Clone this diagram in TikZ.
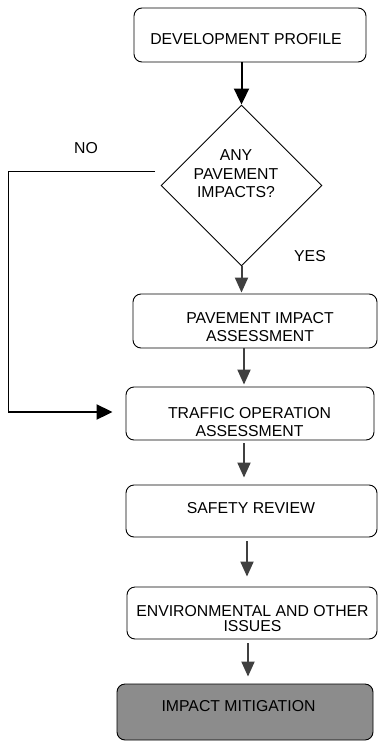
\documentclass[tikz,border=0pt]{standalone}
\usepackage{fontspec}
\setmainfont{Liberation Sans}
\usetikzlibrary{shapes.geometric,arrows.meta,calc}
\definecolor{arrgray}{HTML}{404040}
\definecolor{mitfill}{HTML}{8C8C8C}
\begin{document}
\begin{tikzpicture}[x=1pt,y=-1pt,
  box/.style={draw=black,line width=0.9pt,rounded corners=8pt,inner sep=0pt},
  txt/.style={font=\fontsize{15.8}{18.5}\selectfont,align=center,inner sep=0pt},
  grayarr/.style={draw=arrgray,line width=2pt,-{Triangle[length=15pt,width=13pt]}},
  blackarr/.style={draw=black,line width=2pt,-{Triangle[length=16pt,width=15pt]}},
  noline/.style={draw=black,line width=1pt}]
\useasboundingbox (0,0) rectangle (378,742);

% boxes
\node[box,minimum width=232pt,minimum height=54pt] (dev) at (250,35) {};
\node[draw=black,line width=0.9pt,diamond,aspect=1,minimum width=161pt,minimum height=161pt,inner sep=0pt] (dia) at (241.5,185.5) {};
\node[box,minimum width=244pt,minimum height=54pt] (pav) at (255,321) {};
\node[box,minimum width=248pt,minimum height=53pt] (traf) at (250,413.5) {};
\node[box,minimum width=251pt,minimum height=52pt] (safe) at (251.5,511) {};
\node[box,minimum width=250pt,minimum height=52pt] (env) at (252,613) {};
\node[box,fill=mitfill,minimum width=256pt,minimum height=56pt] (mit) at (245,712) {};

% texts
\node[txt] (devt) at (246,39) {DEVELOPMENT PROFILE};
\node[txt] (diat) at (236,174) {ANY\\PAVEMENT\\IMPACTS?};
\node[txt] (pavt) at (260,327) {PAVEMENT IMPACT\\ASSESSMENT};
\node[txt] (traft) at (249.5,422) {TRAFFIC OPERATION\\ASSESSMENT};
\node[txt] (safet) at (251,508) {SAFETY REVIEW};
\node[txt,font=\fontsize{15.8}{15}\selectfont] (envt) at (252.5,619) {ENVIRONMENTAL AND OTHER\\ISSUES};
\node[txt] (mitt) at (238.5,706) {IMPACT MITIGATION};
\node[txt] (no) at (86,148) {NO};
\node[txt] (yes) at (310,256) {YES};

% spine coordinates
\coordinate (x3) at (244,0);
\coordinate (x5) at (247,0);
\coordinate (x6) at (248,0);
\coordinate (noA) at (155,171);
\coordinate (noB) at (8,171);
\coordinate (noC) at (8,412);

% connectors
\draw[blackarr] (dev.south -| dia.north) -- (dia.north);
\draw[grayarr,shorten >=1pt] (dia.south) -- (dia.south |- pav.north);
\draw[grayarr,shorten >=2pt] (pav.south -| x3) -- (traf.north -| x3);
\draw[grayarr,shorten <=3pt,shorten >=7pt] (traf.south -| x3) -- (safe.north -| x3);
\draw[grayarr,shorten <=4pt,shorten >=10pt] (safe.south -| x5) -- (env.north -| x5);
\draw[grayarr,shorten <=4pt,shorten >=7pt] (env.south -| x6) -- (mit.north -| x6);
\draw[noline] (noA) -- (noB) -- (noC);
\draw[blackarr,shorten >=13pt] (noC) -- (noC -| traf.west);
\end{tikzpicture}
\end{document}
